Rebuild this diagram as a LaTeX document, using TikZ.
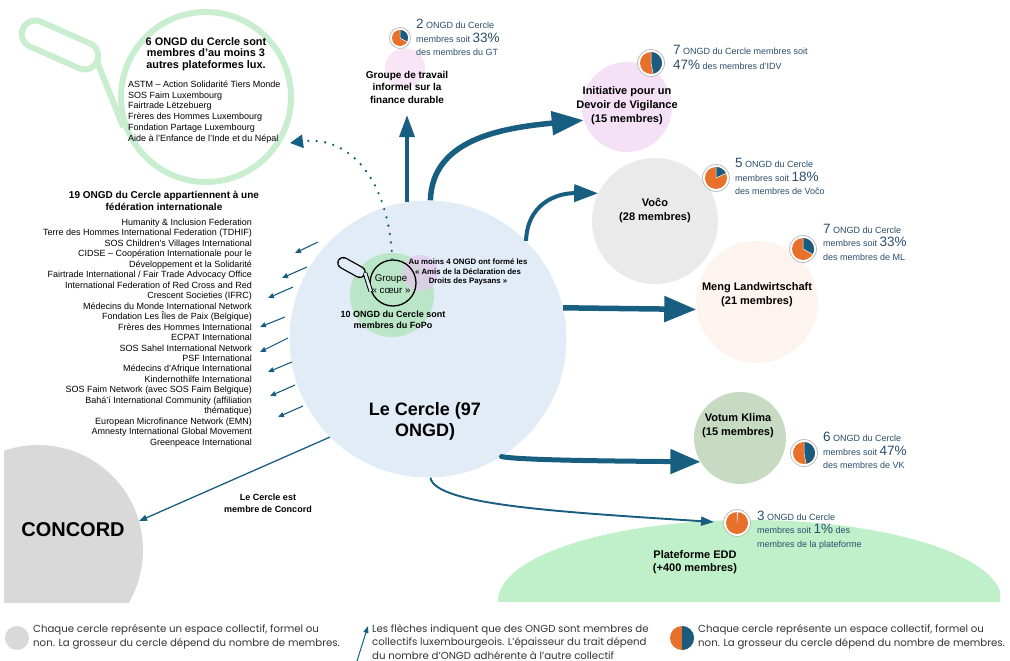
\documentclass[tikz,border=0pt]{standalone}
\usepackage{fontspec}
\setmainfont{Liberation Sans}
\newfontfamily\legendfont{Poppins}
\usetikzlibrary{arrows.meta}
\definecolor{arrowblue}{HTML}{185E80}
\definecolor{cercleblue}{HTML}{E2ECF7}
\definecolor{fopogreen}{HTML}{B3E4BE}
\definecolor{amispink}{HTML}{E6C6EC}
\definecolor{glassgreen}{HTML}{C8EECF}
\definecolor{concordgray}{HTML}{D9D9D9}
\definecolor{vocogray}{HTML}{EAEAEA}
\definecolor{idvpink}{HTML}{F5E1F5}
\definecolor{gtpink}{HTML}{F8E6F6}
\definecolor{mlpink}{HTML}{FDF3EF}
\definecolor{vkgreen}{HTML}{C6DBC2}
\definecolor{eddgreen}{HTML}{C0F0CA}
\definecolor{pieorange}{HTML}{E8702A}
\definecolor{pieblue}{HTML}{1A5B7E}
\definecolor{piering}{HTML}{BDBDBD}
\definecolor{pietxt}{HTML}{2A4D6B}
\definecolor{legtxt}{HTML}{333333}
\newcommand{\Pnum}[1]{{\fontsize{13.5}{13.5}\selectfont #1}}
\newcommand{\orgpie}[4]{%
  \node[circle, draw=piering, line width=0.8pt, fill=white, minimum size={2*#3+5}, inner sep=0pt] (#1) at #2 {};
  \fill[pieorange] (#1.center) circle (#3);
  \fill[pieblue] (#1.center) -- ++(-90:#3) arc[start angle=-90, end angle={-90+3.6*#4}, radius=#3] -- cycle;
  \draw[white, line width=0.5pt] (#1.center) -- ++(-90:#3) (#1.center) -- ++({-90+3.6*#4}:#3);
}
\begin{document}
\begin{tikzpicture}[x=1pt,y=-1pt,
  blob/.style={circle, inner sep=0pt, draw=none},
  ttl/.style={font=\bfseries\fontsize{11}{14}\selectfont, align=center, inner sep=0pt},
  pietext/.style={anchor=west, align=left, text=pietxt, inner sep=0pt, font=\fontsize{9}{13.5}\selectfont},
  legtext/.style={anchor=west, align=left, text=legtxt, inner sep=0pt, font=\legendfont\fontsize{10.2}{13.5}\selectfont},
  thickarrow/.style={draw=arrowblue, line width=5.5pt},
  thinarrow/.style={draw=arrowblue, line width=1.1pt, -{Triangle[length=6pt,width=5pt]}}
]
\useasboundingbox (0,0) rectangle (1010,661);

% ---- background blobs ----
\begin{scope}
  \clip (4,300) rectangle (300,602);
  \node[blob, fill=concordgray, minimum size=210] (concord) at (38,550) {};
\end{scope}
\begin{scope}
  \clip (400,400) rectangle (1000,601);
  \fill[eddgreen] (750,601) ellipse [x radius=252, y radius=81];
\end{scope}
\coordinate (eddTip) at (714,522);

\node[blob, fill=cercleblue, minimum size=277] (cercle) at (428,339) {};
\node[blob, fill=fopogreen, opacity=0.85, minimum size=84] (fopo) at (392,295) {};
\node[blob, fill=amispink, opacity=0.7, minimum size=36] (amis) at (420,273) {};
\node[blob, fill=gtpink, minimum size=40] (gtblob) at (405,68) {};
\node[blob, fill=idvpink, minimum size=90] (idv) at (627,107) {};
\node[blob, fill=vocogray, minimum size=126] (voco) at (655,221) {};
\node[blob, fill=mlpink, minimum size=122] (ml) at (757,302) {};
\node[blob, fill=vkgreen, minimum size=92] (vk) at (740,438) {};

% ---- top-left magnifying glass ----
\coordinate (hA) at (35.3,34.1);
\coordinate (hB) at (84.7,55.9);
\draw[glassgreen, line width=33pt, line cap=round] (hA) -- (hB);
\draw[white, line width=21pt, line cap=round] (hA) -- (hB);
\node[circle, draw=glassgreen, line width=6pt, fill=white, minimum size=170, inner sep=0pt] (bigglass) at (206,97) {};
\coordinate (stemA) at (97,61.5);
\draw[glassgreen, line width=6pt] (stemA) -- (bigglass.200);

% ---- centre magnifying glass ----
\coordinate (gA) at (343.2,262.9);
\coordinate (gB) at (359.8,272.1);
\draw[black, line width=12pt, line cap=round] (gA) -- (gB);
\draw[cercleblue, line width=9.4pt, line cap=round] (gA) -- (gB);
\node[circle, draw=black, line width=1.3pt, minimum size=46, inner sep=0pt] (glass) at (393,283) {};
\coordinate (gC) at (365,273);
\draw[black, line width=1pt, double=cercleblue, double distance=2.6pt] (gC) -- (glass.200);

% ---- arrows ----
\coordinate (gtTip) at (407,115);
\draw[thickarrow, line width=3.5pt, -{Triangle[length=22pt,width=15pt]}] (gtTip |- cercle.98) -- (gtTip);
\draw[thickarrow, -{Triangle[length=32pt,width=23pt]}] (cercle.89) .. controls (432,140) and (500,128) .. (idv.197);
\draw[thickarrow, line width=4pt, -{Triangle[length=24pt,width=17pt]}] (cercle.45) .. controls (527,205) and (555,193) .. (voco.154);
\draw[thickarrow, -{Triangle[length=32pt,width=25pt]}] (cercle.13) -- (ml.187);
\draw[thickarrow, line width=5pt, line cap=round, -{Triangle[length=30pt,width=24pt]}] (cercle.-58.6) .. controls (520,460) and (600,461) .. (vk.211);
\draw[draw=arrowblue, line width=1.9pt, -{Triangle[length=13pt,width=9pt]}] (cercle.-89) .. controls (435,505) and (560,512) .. (eddTip);
\draw[draw=arrowblue, line width=1.3pt, -{Triangle[length=8pt,width=6pt]}] (cercle.225) -- (concord.16);
\coordinate (dotTip) at (290,143);
\draw[draw=arrowblue, line width=2.6pt, line cap=round, dash pattern=on 0pt off 8.5pt, -{Triangle[length=13pt,width=13pt]}] (glass.92) .. controls (389,180) and (350,135) .. (dotTip);

\foreach \i/\sx/\sy/\ex/\ey in {1/318/242/295/253, 2/307/267/282/278, 3/293/287/268/298, 4/285/317/260/327, 5/288/338/260/352, 6/292/362/268/372, 7/295/385/270/396, 8/303/406/278/417}{
  \coordinate (fs\i) at (\sx,\sy);
  \coordinate (fe\i) at (\ex,\ey);
  \draw[thinarrow] (fs\i) -- (fe\i);
}

% ---- texts ----
\node[ttl, font=\bfseries\fontsize{10.9}{11.3}\selectfont] (sixt) at (206,54) {6 ONGD du Cercle sont\\membres d’au moins 3\\autres plateformes lux.};
\node[anchor=west, align=left, inner sep=0pt, font=\fontsize{9}{10.8}\selectfont] (sixl) at (128,112) {ASTM – Action Solidarité Tiers Monde\\SOS Faim Luxembourg\\Fairtrade Lëtzebuerg\\Frères des Hommes Luxembourg\\Fondation Partage Luxembourg\\Aide à l’Enfance de l’Inde et du Népal};

\node[ttl, font=\bfseries\fontsize{10}{11.7}\selectfont] (fedt) at (164,201) {19 ONGD du Cercle appartiennent à une\\fédération internationale};
\node[anchor=east, align=right, inner sep=0pt, font=\fontsize{9}{10.476}\selectfont] (fedl) at (252,333) {Humanity \& Inclusion Federation\\Terre des Hommes International Federation (TDHIF)\\SOS Children’s Villages International\\CIDSE – Coopération Internationale pour le\\Développement et la Solidarité\\Fairtrade International / Fair Trade Advocacy Office\\International Federation of Red Cross and Red\\Crescent Societies (IFRC)\\Médecins du Monde International Network\\Fondation Les Îles de Paix (Belgique)\\Frères des Hommes International\\ECPAT International\\SOS Sahel International Network\\PSF International\\Médecins d’Afrique International\\Kindernothilfe International\\SOS Faim Network (avec SOS Faim Belgique)\\Bahá’í International Community (affiliation\\thématique)\\European Microfinance Network (EMN)\\Amnesty International Global Movement\\Greenpeace International};

\node[ttl, font=\bfseries\fontsize{20}{24}\selectfont] (concordt) at (73,530) {CONCORD};
\node[ttl, font=\bfseries\fontsize{9}{12}\selectfont] (concordl) at (268,503) {Le Cercle est\\membre de Concord};

\node[ttl, font=\bfseries\fontsize{18}{21}\selectfont] (cerclet) at (425,421) {Le Cercle (97\\ONGD)};
\node[align=center, inner sep=0pt, font=\fontsize{9.7}{12}\selectfont] (coeur) at (391,284) {Groupe\\« cœur »};
\node[ttl, font=\bfseries\fontsize{7.8}{9.5}\selectfont] (amist) at (468,272) {Au moins 4 ONGD ont formé les\\« Amis de la Déclaration des\\Droits des Paysans »};
\node[ttl, font=\bfseries\fontsize{9}{11}\selectfont] (fopot) at (393,319.5) {10 ONGD du Cercle sont\\membres du FoPo};

\node[ttl, font=\bfseries\fontsize{10}{12.5}\selectfont] (gtt) at (407,87) {Groupe de travail\\informel sur la\\finance durable};
\node[ttl] (idvt) at (627,106) {Initiative pour un\\Devoir de Vigilance\\(15 membres)};
\node[ttl] (vocot) at (655,211) {Voĉo\\(28 membres)};
\node[ttl] (mlt) at (757,295) {Meng Landwirtschaft\\(21 membres)};
\node[ttl] (vkt) at (738,426) {Votum Klima\\(15 membres)};
\node[ttl, font=\bfseries\fontsize{11}{13}\selectfont] (eddt) at (695,562) {Plateforme EDD\\(+400 membres)};

% ---- pies ----
\orgpie{pgt}{(400,38)}{8}{33}
\orgpie{pidv}{(651,63)}{11}{47}
\orgpie{pvoco}{(716,178)}{11}{18}
\orgpie{pml}{(803,249)}{11}{33}
\orgpie{pvk}{(804,453)}{11}{47}
\orgpie{pedd}{(737,523)}{11}{1}

\node[pietext] (tgt) at (416,37.7) {\Pnum{2} ONGD du Cercle\\membres soit \Pnum{33\%}\\des membres du GT};
\node[pietext, font=\fontsize{9}{15}\selectfont] (tidv) at (673,57.5) {\Pnum{7} ONGD du Cercle membres soit\\\Pnum{47\%} des membres d’IDV};
\node[pietext] (tvoco) at (735,176.7) {\Pnum{5} ONGD du Cercle\\membres soit \Pnum{18\%}\\des membres de Voĉo};
\node[pietext] (tml) at (823,242) {\Pnum{7} ONGD du Cercle\\membres soit \Pnum{33\%}\\des membres de ML};
\node[pietext] (tvk) at (823,450.7) {\Pnum{6} ONGD du Cercle\\membres soit \Pnum{47\%}\\des membres de VK};
\node[pietext] (tedd) at (757,530) {\Pnum{3} ONGD du Cercle\\membres soit \Pnum{1\%} des\\membres de la plateforme};

% ---- legend ----
\node[blob, fill=concordgray, minimum size=24] (leg1) at (17,638) {};
\node[legtext] (legt1) at (33,637) {Chaque cercle représente un espace collectif, formel ou\\non. La grosseur du cercle dépend du nombre de membres.};
\coordinate (legA) at (357,661);
\coordinate (legB) at (368,626);
\draw[draw=arrowblue, line width=1pt, -{Triangle[length=7pt,width=5pt]}] (legA) -- (legB);
\node[legtext, font=\legendfont\fontsize{10.2}{13.2}\selectfont] (legt2) at (372,642) {Les flèches indiquent que des ONGD sont membres de\\collectifs luxembourgeois. L’épaisseur du trait dépend\\du nombre d’ONGD adhérente à l’autre collectif};
\node[blob, fill=pieorange, minimum size=24] (legpie) at (682,638) {};
\fill[pieblue] (legpie.center) -- ++(-90:12) arc[start angle=-90, end angle=90, radius=12] -- cycle;
\node[legtext] (legt3) at (698,637) {Chaque cercle représente un espace collectif, formel ou\\non. La grosseur du cercle dépend du nombre de membres.};
\end{tikzpicture}
\end{document}
